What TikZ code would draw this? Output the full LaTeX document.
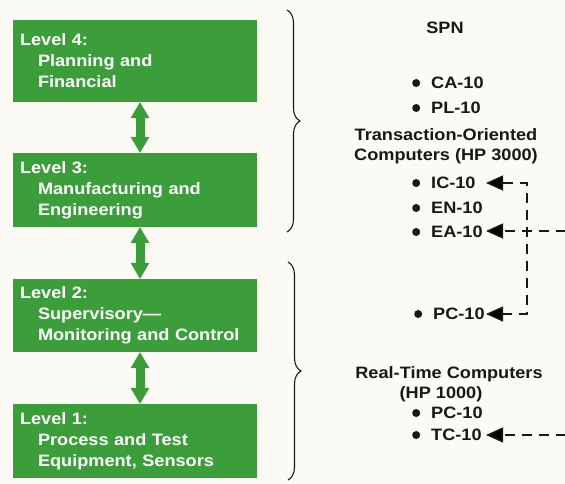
\documentclass[tikz,border=0pt]{standalone}
\usepackage{fontspec}
\setmainfont[FakeStretch=1.1]{Liberation Sans}
\usetikzlibrary{arrows.meta,decorations.pathreplacing,calc}
\definecolor{boxgreen}{RGB}{60,158,58}
\definecolor{ink}{RGB}{24,24,24}
\definecolor{paper}{RGB}{252,250,244}
\newcommand{\bul}{\tikz[baseline=0pt]\fill[ink] (4pt,5pt) circle (4pt);}
\begin{document}
\begin{tikzpicture}[x=1pt,y=-1pt,
  levelbox/.style={fill=boxgreen, draw=none, minimum width=244pt, text width=230pt,
    inner xsep=7pt, inner ysep=0pt, align=left, text=white,
    font=\fontsize{16.5}{21}\selectfont\bfseries},
  dbl/.style={draw=boxgreen, fill=boxgreen, line width=9pt,
    {Triangle[width=19pt,length=16pt,line width=0pt]}-{Triangle[width=19pt,length=16pt,line width=0pt]}},
  lbl/.style={text=ink, inner sep=0pt, font=\fontsize{16.5}{19}\selectfont\bfseries},
  dconn/.style={draw=ink, line width=1.4pt, dash pattern=on 10pt off 7pt},
  dtip/.style={-{Triangle[length=17pt,width=15pt]}},
  dtips/.style={{Triangle[length=17pt,width=15pt]}-{Triangle[length=17pt,width=15pt]}},
  bracepath/.style={draw=ink, line width=1.1pt, decorate, decoration={brace, amplitude=13pt}}]
\fill[paper] (0,0) rectangle (565,483);
\useasboundingbox (0,0) rectangle (565,483);
\newcommand{\ind}{\hspace*{18pt}}
% level boxes
\node[levelbox, minimum height=82pt] (b4) at (135,61) {Level 4:\\\ind Planning and\\\ind Financial};
\node[levelbox, minimum height=74pt] (b3) at (135,190) {Level 3:\\\ind Manufacturing and\\\ind Engineering};
\node[levelbox, minimum height=73pt] (b2) at (135,315.5) {Level 2:\\\ind Supervisory---\\\ind Monitoring and Control};
\node[levelbox, minimum height=74pt] (b1) at (135,441) {Level 1:\\\ind Process and Test\\\ind Equipment, Sensors};
\coordinate (ax) at (140,0);
\draw[dbl] (b4.south -| ax) -- (b3.north -| ax);
\draw[dbl] (b3.south -| ax) -- (b2.north -| ax);
\draw[dbl] (b2.south -| ax) -- (b1.north -| ax);
% braces
\coordinate (br1a) at (287,10);
\coordinate (br1b) at (287,232);
\coordinate (br2a) at (288,262);
\coordinate (br2b) at (288,480);
\draw[bracepath] (br1a) -- (br1b);
\draw[bracepath] (br2a) -- (br2b);
% right column
\node[lbl, anchor=base] (spn) at (445,33) {SPN};
\node[lbl, anchor=base west] (ca) at (412,88) {\bul\hspace{11pt}CA-10};
\node[lbl, anchor=base west] (pl) at (412,113) {\bul\hspace{11pt}PL-10};
\node[lbl, anchor=base] (to1) at (446,140) {Transaction-Oriented};
\node[lbl, anchor=base] (to2) at (446,160) {Computers (HP 3000)};
\node[lbl, anchor=base west] (ic) at (412,188) {\bul\hspace{11pt}IC-10};
\node[lbl, anchor=base west] (en) at (412,213) {\bul\hspace{11pt}EN-10};
\node[lbl, anchor=base west] (ea) at (412,237) {\bul\hspace{11pt}EA-10};
\node[lbl, anchor=base west] (pc1) at (414,319) {\bul\hspace{11pt}PC-10};
\node[lbl, anchor=base] (rt1) at (449,378) {Real-Time Computers};
\node[lbl, anchor=base] (rt2) at (441,398) {(HP 1000)};
\node[lbl, anchor=base west] (pc2) at (412,418) {\bul\hspace{11pt}PC-10};
\node[lbl, anchor=base west] (tc) at (412,440) {\bul\hspace{11pt}TC-10};
% dashed connectors
\coordinate (tipx) at (486,0);
\coordinate (vx) at (527,0);
\coordinate (redge) at (566,0);
\coordinate (ictip) at ($(ic.base -| tipx)+(0,-5)$);
\coordinate (eatip) at ($(ea.base -| tipx)+(0,-6)$);
\coordinate (pctip) at ($(pc1.base -| tipx)+(0,-5)$);
\coordinate (tctip) at ($(tc.base -| tipx)+(0,-5)$);
\draw[dconn, dtips] (ictip) -- (ictip -| vx) -- (pctip -| vx) -- (pctip);
\draw[dconn, dtip] (eatip -| redge) -- (eatip);
\draw[dconn, dtip] (tctip -| redge) -- (tctip);
\end{tikzpicture}
\end{document}
